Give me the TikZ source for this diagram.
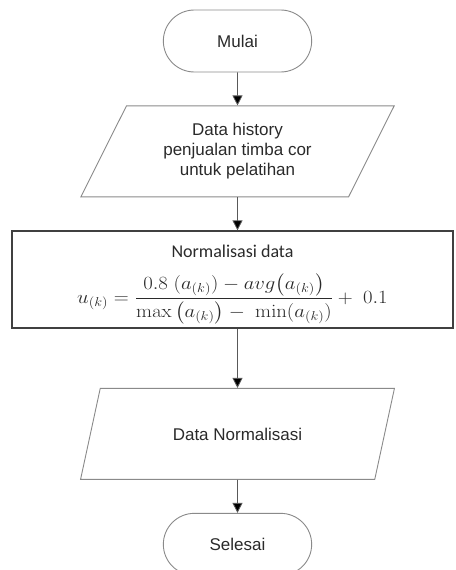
\documentclass[tikz,border=0pt]{standalone}
\usepackage{amsmath, amssymb}
\usepackage[no-math]{fontspec}
\setmainfont{Liberation Sans}
\newfontfamily\carlito{Carlito}
\usetikzlibrary{positioning, shapes.geometric, shapes.misc, arrows.meta}
\definecolor{linegray}{HTML}{8A8A8A}
\definecolor{textgray}{HTML}{2A2A2A}
\tikzset{
    auto,node distance =33pt and 33pt,% gap between the flowchart blocks
    terminal/.style ={rounded rectangle, draw=linegray, line width=0.9pt, minimum width=155pt, minimum height=62pt, text=textgray, font=\fontsize{17}{20}\selectfont},
    iobox/.style ={trapezium, trapezium left angle=63, trapezium right angle=117, trapezium stretches=true, draw=linegray, line width=0.9pt, minimum width=314pt, minimum height=91pt, text=textgray, align=center, font=\fontsize{17}{20}\selectfont},
    processbox/.style ={rectangle, draw=black!75, line width=1.6pt, minimum width=441pt, minimum height=97pt},
    flow/.style ={draw=black!65, line width=0.8pt, -{Triangle[width=10pt,length=10pt,fill=black]}},
}
\begin{document}
\begin{tikzpicture}
    \useasboundingbox (0,0) rectangle (455pt,-570pt);
    \node[terminal] (mulai) at (237.5pt,-41pt) {Mulai};
    \node[iobox] (history) [below =of mulai] {Data history\\penjualan timba cor\\untuk pelatihan};
    \node[processbox] (normal) [below =of history, xshift=-5pt] {};
    \node[font=\carlito\fontsize{18}{21}\selectfont, text=textgray, inner sep=0pt] (normtitle) at ([yshift=-21pt]normal.north) {Normalisasi data};
    \node[font=\fontsize{17.28}{20}\selectfont, text=textgray, inner sep=0pt, xscale=1.2, yscale=1.08, transform shape] (normrumus) at ([yshift=-19pt]normal.center) {$u_{(k)} = \dfrac{0.8\;(a_{(k)}) - avg\big(a_{(k)}\big)}{\max\big(a_{(k)}\big) -\;\min(a_{(k)})} +\;0.1$};
    \node[iobox] (datanorm) [below =59pt of normal, xshift=5pt] {Data Normalisasi};
    \node[terminal] (selesai) [below =33pt of datanorm] {Selesai};
    \draw[flow] (mulai) -- (history);
    \draw[flow] (history.south) -- (history.south |- normal.north);
    \draw[flow] (history.south |- normal.south) -- (datanorm.north);
    \draw[flow] (datanorm) -- (selesai);
\end{tikzpicture}
\end{document}
